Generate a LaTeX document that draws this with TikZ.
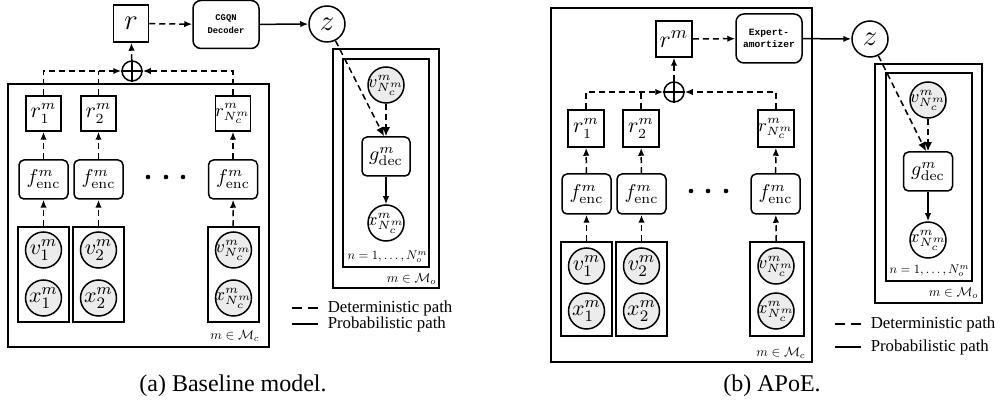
\documentclass[tikz,border=0pt]{standalone}
\usepackage[no-math]{fontspec}
\setmainfont{Liberation Serif}
\newfontfamily\codefont{Liberation Mono}
\usetikzlibrary{arrows.meta}
\definecolor{obsgray}{gray}{0.925}
\newcommand{\mfs}{\fontsize{10.5}{12}\selectfont}
\newcommand{\efs}{\fontsize{10}{12}\selectfont}
\newcommand{\nfs}{\fontsize{9}{11}\selectfont}
\newcommand{\cfs}{\fontsize{11}{13}\selectfont}
\newcommand{\bigfs}{\fontsize{15}{17}\selectfont}
\newcommand{\platemath}[2]{\scalebox{#1}{\fontsize{10}{12}\selectfont$#2$}}
\tikzset{
  sq/.style={draw, minimum width=17.5pt, minimum height=17.5pt, inner sep=-2pt, font=\mfs},
  bigsq/.style={draw, minimum width=17.5pt, minimum height=18.5pt, inner sep=0pt, font=\bigfs},
  encbox/.style={draw, rounded corners=2.5pt, minimum width=24.5pt, minimum height=19.5pt, inner sep=0pt, font=\efs},
  netbox/.style={draw, rounded corners=4pt, minimum width=33pt, minimum height=24pt, inner sep=0pt, align=center},
  obs/.style={circle, draw, fill=obsgray, minimum size=18pt, inner sep=-3pt, font=\cfs},
  latent/.style={circle, draw, fill=white, minimum size=18pt, inner sep=-3pt, font=\cfs},
  bigcirc/.style={circle, draw, fill=white, minimum size=18pt, inner sep=0pt, font=\bigfs},
  plate/.style={draw, inner sep=0pt},
  oplusnode/.style={circle, draw, minimum size=10pt, inner sep=0pt},
  dotnode/.style={circle, fill, minimum size=2.3pt, inner sep=0pt},
  dline/.style={dash pattern=on 3pt off 2pt},
  dpath/.style={dash pattern=on 3pt off 2pt, -{Latex[length=4pt,width=3.2pt]}},
  dpathbig/.style={dash pattern=on 3pt off 2pt, -{Latex[length=4.5pt,width=4pt]}},
  ppath/.style={-{Latex[length=4pt,width=3.2pt]}},
  platelabel/.style={inner sep=0pt},
  legendtext/.style={font=\fontsize{8.4}{10}\selectfont, anchor=west, inner sep=0pt},
  captiontext/.style={font=\fontsize{12}{14}\selectfont, inner sep=0pt},
}
\begin{document}
\begin{tikzpicture}[x=0.5pt, y=-0.5pt, line width=0.75pt]
\useasboundingbox (0,0) rectangle (1000,411);

%%%%%%%%%%%%%%%% (a) %%%%%%%%%%%%%%%%
% plates
\node[plate, minimum width=130.5pt, minimum height=131.5pt] (Pa) at (138.5,215.5) {};
\node[plate, minimum width=25.5pt, minimum height=47.5pt] (pa1) at (43.5,274.5) {};
\node[plate, minimum width=25.5pt, minimum height=47.5pt] (pa2) at (98.5,274.5) {};
\node[plate, minimum width=25.5pt, minimum height=47.5pt] (pa3) at (233.5,274.5) {};
\node[plate, minimum width=53pt, minimum height=119.5pt] (Qa) at (386,168.5) {};
\node[plate, minimum width=43pt, minimum height=104pt] (qa) at (386,163) {};
\node[platelabel, anchor=east] (laMc) at (260,336) {\platemath{0.66}{m \in \mathcal{M}_c}};
\node[platelabel, anchor=east] (laMo) at (437,279) {\platemath{0.66}{m \in \mathcal{M}_o}};
\node[platelabel, anchor=east] (laN) at (428,257) {\platemath{0.63}{n=1,\ldots,N^m_o}};

% top row
\node[bigsq] (ra) at (131,23.5) {$r$};
\node[netbox, font=\codefont\bfseries\fontsize{4.4}{6.5}\selectfont] (deca) at (226,24.5) {CGQN\\Decoder};
\node[bigcirc] (za) at (327,24) {$z$};
\node[oplusnode] (oa) at (132,71) {};
\draw (oa.north) -- (oa.south) (oa.west) -- (oa.east);

% r boxes
\node[sq] (ra1) at (43.5,113.5) {$r^m_1$};
\node[sq] (ra2) at (98.5,113.5) {$r^m_2$};
\node[sq, font=\nfs] (ra3) at (233,113.5) {$r^m_{N^m_c}$};
% encoders
\node[encbox] (fa1) at (43.5,179.5) {$f^m_{\mathrm{enc}}$};
\node[encbox] (fa2) at (98.5,179.5) {$f^m_{\mathrm{enc}}$};
\node[encbox] (fa3) at (233,179.5) {$f^m_{\mathrm{enc}}$};
\node[dotnode] (da1) at (148,177) {};
\node[dotnode] (da2) at (166,177) {};
\node[dotnode] (da3) at (183,177) {};
% observations
\node[obs] (va1) at (43.5,250) {$v^m_1$};
\node[obs] (xa1) at (43.5,298) {$x^m_1$};
\node[obs] (va2) at (98.5,250) {$v^m_2$};
\node[obs] (xa2) at (98.5,298) {$x^m_2$};
\node[obs, font=\nfs] (va3) at (233.5,250) {$v^m_{N^m_c}$};
\node[obs, font=\nfs] (xa3) at (233.5,298) {$x^m_{N^m_c}$};
% decoder plate
\node[obs, font=\nfs] (vad) at (386,85) {$v^m_{N^m_c}$};
\node[encbox, minimum width=24pt] (ga) at (386,156.5) {$g^m_{\mathrm{dec}}$};
\node[latent, font=\nfs] (xad) at (386,223) {$x^m_{N^m_c}$};

% connectors
\draw[dpath] (ra) -- (deca);
\draw[ppath] (deca) -- (za);
\draw[dpath] (oa) -- (ra);
\draw[dpath] (ra1.north) |- (oa.west);
\draw[dline] (ra2.north) -- (ra2.north |- oa.west);
\draw[dpath] (ra3.north) |- (oa.east);
\draw[dpath] (fa1) -- (ra1);
\draw[dpath] (fa2) -- (ra2);
\draw[dpath] (fa3) -- (ra3);
\draw[dpath] (pa1) -- (fa1);
\draw[dpath] (pa2) -- (fa2);
\draw[dpath] (pa3) -- (fa3);
\draw[dpathbig] (za) -- ([xshift=-1pt]ga.north);
\draw[dpathbig] (vad) -- (ga);
\draw[ppath] (ga) -- (xad);

% legend
\coordinate (lda1) at (292,308); \coordinate (lda2) at (318,308);
\coordinate (lsa1) at (292,324); \coordinate (lsa2) at (318,324);
\draw[dash pattern=on 5pt off 3pt] (lda1) -- (lda2);
\draw (lsa1) -- (lsa2);
\node[legendtext] (ltda) at (327,308) {Deterministic path};
\node[legendtext] (ltsa) at (327,324) {Probabilistic path};
\node[captiontext] (capa) at (233,386) {(a) Baseline model.};

%%%%%%%%%%%%%%%% (b) %%%%%%%%%%%%%%%%
\node[plate, minimum width=130.5pt, minimum height=177pt] (Pb) at (681.5,185) {};
\node[plate, minimum width=25.5pt, minimum height=47pt] (pb1) at (586.5,289) {};
\node[plate, minimum width=25.5pt, minimum height=47pt] (pb2) at (641.5,289) {};
\node[plate, minimum width=27pt, minimum height=47pt] (pb3) at (777,289) {};
\node[plate, minimum width=53.5pt, minimum height=119.5pt] (Qb) at (928.5,183.5) {};
\node[plate, minimum width=43pt, minimum height=104pt] (qb) at (929,177) {};
\node[platelabel, anchor=east] (lbMc) at (806,353) {\platemath{0.66}{m \in \mathcal{M}_c}};
\node[platelabel, anchor=east] (lbMo) at (979,293) {\platemath{0.66}{m \in \mathcal{M}_o}};
\node[platelabel, anchor=east] (lbN) at (970,271) {\platemath{0.63}{n=1,\ldots,N^m_o}};

\node[bigsq, minimum height=18pt, minimum width=18pt, font=\fontsize{13}{15}\selectfont] (rb) at (674,39) {$r^m$};
\node[netbox, minimum height=24.5pt, font=\codefont\bfseries\fontsize{4.8}{6}\selectfont] (expb) at (769,38.5) {Expert-\\amortizer};
\node[bigcirc] (zb) at (870,39) {$z$};
\node[oplusnode] (ob) at (674,92) {};
\draw (ob.north) -- (ob.south) (ob.west) -- (ob.east);

\node[sq, minimum width=18pt, minimum height=18.5pt] (rb1) at (586,128.5) {$r^m_1$};
\node[sq, minimum width=18pt, minimum height=18.5pt] (rb2) at (641,128.5) {$r^m_2$};
\node[sq, minimum width=18pt, minimum height=18.5pt, font=\nfs] (rb3) at (776,128.5) {$r^m_{N^m_c}$};
\node[encbox, minimum height=20pt] (fb1) at (586.5,194) {$f^m_{\mathrm{enc}}$};
\node[encbox, minimum height=20pt] (fb2) at (641.5,194) {$f^m_{\mathrm{enc}}$};
\node[encbox, minimum height=20pt] (fb3) at (775.5,194) {$f^m_{\mathrm{enc}}$};
\node[dotnode] (db1) at (691,191) {};
\node[dotnode] (db2) at (708,191) {};
\node[dotnode] (db3) at (726,191) {};
\node[obs] (vb1) at (586.5,266) {$v^m_1$};
\node[obs] (xb1) at (586.5,311) {$x^m_1$};
\node[obs] (vb2) at (641.5,266) {$v^m_2$};
\node[obs] (xb2) at (641.5,311) {$x^m_2$};
\node[obs, font=\nfs] (vb3) at (776,266) {$v^m_{N^m_c}$};
\node[obs, font=\nfs] (xb3) at (776,311) {$x^m_{N^m_c}$};
\node[obs, font=\nfs] (vbd) at (928,100) {$v^m_{N^m_c}$};
\node[encbox, minimum width=24.5pt] (gb) at (928,171.5) {$g^m_{\mathrm{dec}}$};
\node[latent, font=\nfs] (xbd) at (928,240) {$x^m_{N^m_c}$};

\draw[dpath] (rb) -- (expb);
\draw[ppath] (expb) -- (zb);
\draw[dpath] (ob) -- (rb);
\draw[dpath] (rb1.north) |- (ob.west);
\draw[dline] (rb2.north) -- (rb2.north |- ob.west);
\draw[dpath] (rb3.north) |- (ob.east);
\draw[dpath] (fb1) -- (rb1);
\draw[dpath] (fb2) -- (rb2);
\draw[dpath] (fb3) -- (rb3);
\draw[dpath] (pb1) -- (fb1);
\draw[dpath] (pb2) -- (fb2);
\draw[dpath] (pb3) -- (fb3);
\draw[dpathbig] (zb) -- ([xshift=-1pt]gb.north);
\draw[dpathbig] (vbd) -- (gb);
\draw[ppath] (gb) -- (xbd);

\coordinate (ldb1) at (835,324); \coordinate (ldb2) at (861,324);
\coordinate (lsb1) at (835,347); \coordinate (lsb2) at (861,347);
\draw[dash pattern=on 5pt off 3pt] (ldb1) -- (ldb2);
\draw (lsb1) -- (lsb2);
\node[legendtext] (ltdb) at (870,324) {Deterministic path};
\node[legendtext] (ltsb) at (870,347) {Probabilistic path};
\node[captiontext] (capb) at (772,386) {(b) APoE.};
\end{tikzpicture}
\end{document}
